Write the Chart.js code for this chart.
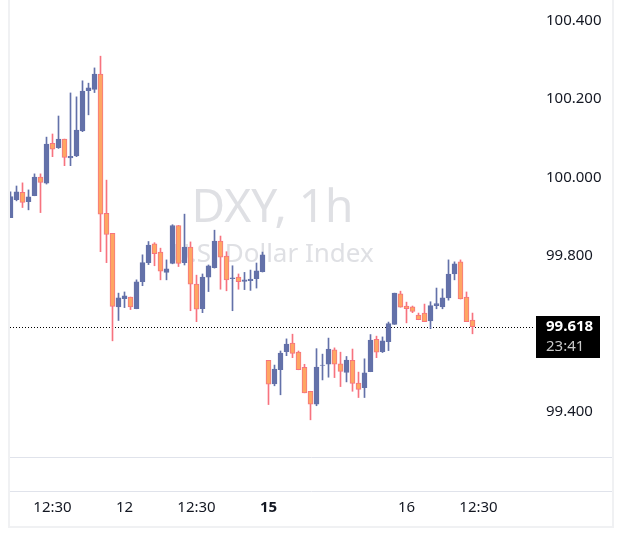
<!DOCTYPE html>
<html lang="en">
<head>
    <meta charset="UTF-8">
    <title>DXY, 1h</title>
    <script src="https://cdn.jsdelivr.net/npm/chart.js"></script>
    <style>
        html, body {
            margin: 0;
            padding: 0;
            background: #ffffff;
        }
        .chart-container {
            position: relative;
            width: 623px;
            height: 548px;
        }
    </style>
</head>
<body>
    <div class="chart-container">
        <canvas id="dxyChart"></canvas>
    </div>

    <script>
        // hourly candles
        const opens = [
            99.897, 99.943, 99.962, 99.938, 99.953, 100.001, 99.985, 100.087, 100.076, 100.098,
            100.050, 100.055, 100.119, 100.222, 100.225, 100.264, 99.908, 99.857, 99.669, 99.690,
            99.694, 99.664, 99.733, 99.782, 99.830, 99.809, 99.757, 99.780, 99.877, 99.782,
            99.822, 99.727, 99.664, 99.745, 99.769, 99.837, 99.799, 99.741, 99.745, 99.734,
            99.736, 99.741, 99.759, 99.532, 99.472, 99.508, 99.554, 99.576, 99.553, 99.514,
            99.453, 99.420, 99.519, 99.522, 99.559, 99.523, 99.501, 99.532, 99.474, 99.462,
            99.503, 99.586, 99.554, 99.580, 99.624, 99.702, 99.671, 99.669, 99.648, 99.653,
            99.633, 99.672, 99.669, 99.692, 99.753, 99.784, 99.694, 99.635
        ];
        const highs = [
            99.963, 99.978, 99.986, 99.968, 100.009, 100.009, 100.103, 100.111, 100.157, 100.098,
            100.216, 100.206, 100.247, 100.241, 100.280, 100.310, 99.993, 99.857, 99.704, 99.707,
            99.694, 99.738, 99.802, 99.836, 99.833, 99.819, 99.789, 99.879, 99.877, 99.906,
            99.835, 99.750, 99.753, 99.776, 99.865, 99.850, 99.810, 99.774, 99.753, 99.757,
            99.763, 99.781, 99.809, 99.532, 99.520, 99.556, 99.587, 99.599, 99.556, 99.522,
            99.453, 99.562, 99.548, 99.589, 99.564, 99.553, 99.542, 99.561, 99.502, 99.536,
            99.598, 99.594, 99.592, 99.630, 99.704, 99.709, 99.681, 99.671, 99.653, 99.676,
            99.682, 99.717, 99.715, 99.789, 99.784, 99.789, 99.707, 99.653
        ];
        const lows = [
            99.897, 99.940, 99.923, 99.917, 99.953, 99.910, 99.983, 100.053, 100.074, 100.030,
            100.030, 100.053, 100.117, 100.160, 100.217, 99.810, 99.782, 99.582, 99.634, 99.667,
            99.662, 99.664, 99.723, 99.777, 99.774, 99.738, 99.738, 99.779, 99.772, 99.776,
            99.659, 99.631, 99.654, 99.708, 99.768, 99.714, 99.710, 99.659, 99.714, 99.713,
            99.711, 99.717, 99.758, 99.419, 99.467, 99.444, 99.544, 99.539, 99.508, 99.449,
            99.380, 99.416, 99.482, 99.489, 99.488, 99.465, 99.477, 99.453, 99.437, 99.437,
            99.503, 99.539, 99.552, 99.557, 99.624, 99.668, 99.628, 99.654, 99.636, 99.631,
            99.613, 99.664, 99.664, 99.686, 99.738, 99.689, 99.631, 99.600
        ];
        const closes = [
            99.951, 99.963, 99.936, 99.950, 100.001, 99.987, 100.085, 100.072, 100.098, 100.051,
            100.054, 100.121, 100.221, 100.229, 100.264, 99.906, 99.854, 99.670, 99.692, 99.697,
            99.669, 99.733, 99.782, 99.827, 99.805, 99.760, 99.766, 99.877, 99.780, 99.822,
            99.727, 99.663, 99.745, 99.774, 99.837, 99.796, 99.738, 99.743, 99.733, 99.738,
            99.740, 99.761, 99.802, 99.471, 99.510, 99.551, 99.574, 99.550, 99.508, 99.449,
            99.420, 99.515, 99.520, 99.561, 99.522, 99.504, 99.533, 99.473, 99.458, 99.500,
            99.584, 99.553, 99.582, 99.626, 99.704, 99.668, 99.664, 99.657, 99.636, 99.631,
            99.672, 99.677, 99.692, 99.753, 99.779, 99.689, 99.631, 99.618
        ];

        // time axis: bar index -> label
        const xTickIndex = [7, 19, 31, 43, 66, 78];
        const xTickLabels = ['12:30', '12', '12:30', '15', '16', '12:30'];
        const xBoldLabels = ['15'];

        // price axis (99.600 is hidden under the last price marker)
        const yTickValues = [99.4, 99.8, 100.0, 100.2, 100.4];

        const symbolTitle = 'DXY, 1h';
        const symbolName = 'U.S. Dollar Index';
        const countdown = '23:41';

        const upColor = '#6371a9';
        const downFill = '#fea663';
        const downLine = '#f7737f';
        const fontFamily = '"Noto Sans", "Open Sans", sans-serif';

        const isUp = opens.map((o, i) => closes[i] >= o);
        const lastClose = closes[closes.length - 1];

        const paneDecor = {
            id: 'paneDecor',
            beforeDatasetsDraw(chart) {
                const { ctx, chartArea: a } = chart;
                const cx = (a.left + a.right) / 2;
                ctx.save();
                // watermark
                ctx.fillStyle = '#dfe0e4';
                ctx.textAlign = 'center';
                ctx.textBaseline = 'middle';
                ctx.font = '46px ' + fontFamily;
                ctx.fillText(symbolTitle, cx, a.top + 209);
                ctx.font = '26px ' + fontFamily;
                ctx.fillText(symbolName, cx, a.top + 255);

                // last price line
                const y = Math.round(chart.scales.y.getPixelForValue(lastClose)) + 0.5;
                ctx.strokeStyle = '#000000';
                ctx.lineWidth = 1;
                ctx.setLineDash([1, 2]);
                ctx.beginPath();
                ctx.moveTo(a.left, y);
                ctx.lineTo(a.right, y);
                ctx.stroke();
                ctx.restore();
            },
            afterDraw(chart) {
                const { ctx, chartArea: a, width } = chart;
                ctx.save();
                // pane separators
                ctx.strokeStyle = '#e0e3eb';
                ctx.lineWidth = 1;
                ctx.beginPath();
                ctx.moveTo(a.left, a.bottom + 0.5);
                ctx.lineTo(width - 10, a.bottom + 0.5);
                ctx.moveTo(a.left, a.bottom + 34.5);
                ctx.lineTo(width - 10, a.bottom + 34.5);
                ctx.stroke();

                // outer frame
                ctx.strokeStyle = '#f0f1f3';
                ctx.lineWidth = 2;
                ctx.strokeRect(a.left - 1, -2, width - a.left - 9, a.bottom + 72);

                // last price marker
                const y = Math.round(chart.scales.y.getPixelForValue(lastClose));
                ctx.fillStyle = '#000000';
                ctx.fillRect(a.right + 1, y - 11, 64, 42);
                ctx.textBaseline = 'middle';
                ctx.textAlign = 'left';
                ctx.fillStyle = '#ffffff';
                ctx.font = 'bold 15px ' + fontFamily;
                ctx.fillText(lastClose.toFixed(3), a.right + 11, y);
                ctx.fillStyle = '#c9c9c9';
                ctx.font = '15px ' + fontFamily;
                ctx.fillText(countdown, a.right + 11, y + 20);
                ctx.restore();
            }
        };

        const config = {
            type: 'bar',
            data: {
                datasets: [
                    {
                        label: 'body',
                        data: opens.map((o, i) => ({ x: i, y: [o, closes[i]] })),
                        backgroundColor: isUp.map(u => u ? upColor : downFill),
                        borderColor: isUp.map(u => u ? upColor : downLine),
                        borderWidth: 1,
                        borderSkipped: false,
                        barThickness: 5,
                        grouped: false,
                        clip: 0
                    },
                    {
                        label: 'wick',
                        data: lows.map((l, i) => ({ x: i, y: [l, highs[i]] })),
                        backgroundColor: isUp.map(u => u ? upColor : downLine),
                        borderWidth: 0,
                        barThickness: 1,
                        grouped: false,
                        clip: 0
                    }
                ]
            },
            options: {
                responsive: true,
                maintainAspectRatio: false,
                animation: false,
                layout: { padding: { left: 10, right: 0, top: 0, bottom: 0 } },
                plugins: {
                    legend: { display: false },
                    tooltip: { enabled: false }
                },
                scales: {
                    x: {
                        type: 'linear',
                        position: 'bottom',
                        offset: false,
                        min: -1 / 12,
                        max: 87.4167,
                        grid: { display: false, drawTicks: false },
                        border: { display: false },
                        afterFit: (scale) => {
                            scale.height = 91;
                            scale.paddingLeft = 0;
                            scale.paddingRight = 0;
                        },
                        afterBuildTicks: (scale) => {
                            scale.ticks = xTickIndex.map(v => ({ value: v }));
                        },
                        ticks: {
                            autoSkip: false,
                            maxRotation: 0,
                            padding: 42,
                            color: '#131722',
                            font: (c) => ({
                                family: fontFamily,
                                size: 15,
                                weight: c.tick && xBoldLabels.includes(xTickLabels[xTickIndex.indexOf(c.tick.value)]) ? 'bold' : 'normal'
                            }),
                            callback: (v) => xTickLabels[xTickIndex.indexOf(v)]
                        }
                    },
                    y: {
                        position: 'right',
                        min: 99.2849,
                        max: 100.4537,
                        grid: { display: false, drawTicks: false },
                        border: { display: false },
                        afterFit: (scale) => {
                            scale.width = 88;
                            scale.paddingTop = 0;
                            scale.paddingBottom = 0;
                        },
                        afterBuildTicks: (scale) => {
                            scale.ticks = yTickValues.map(v => ({ value: v }));
                        },
                        ticks: {
                            padding: 11,
                            color: '#131722',
                            font: { family: fontFamily, size: 15 },
                            callback: (v) => v.toFixed(3)
                        }
                    }
                }
            },
            plugins: [paneDecor]
        };

        const ctx = document.getElementById('dxyChart').getContext('2d');
        const dxyChart = new Chart(ctx, config);
    </script>
</body>
</html>
